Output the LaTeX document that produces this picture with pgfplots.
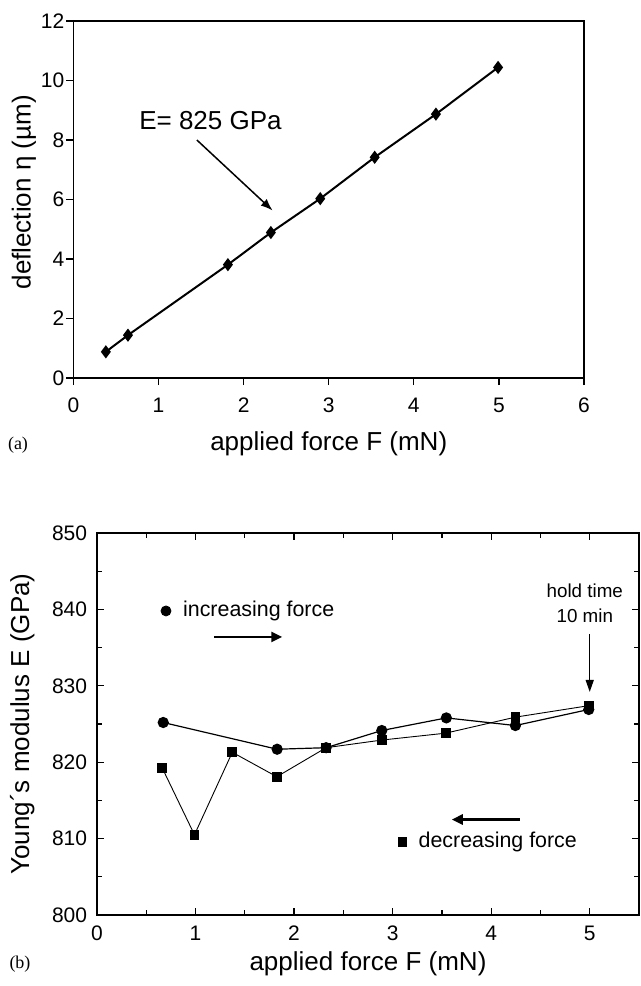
\documentclass[border=0pt]{standalone}
\usepackage{fontspec}
\setmainfont{Liberation Sans}
\newfontfamily\serifpanel{Liberation Serif}
\usepackage{pgfplots}
\pgfplotsset{compat=1.18}
\usetikzlibrary{arrows.meta}

\begin{document}
\begin{tikzpicture}
\useasboundingbox (0pt,0pt) rectangle (320.5pt,-493pt);
\pgfplotsset{
  every axis/.append style={
    scale only axis,
    axis line style={line width=0.8pt},
    every tick/.style={line width=0.6pt, black},
    tick label style={font=\fontsize{10.5}{12}\selectfont},
    label style={font=\fontsize{13}{15}\selectfont},
    /pgf/number format/assume math mode=true,
  },
}

% (a) deflection vs force
\begin{axis}[
  at={(36.75pt,-189pt)}, anchor=south west,
  width=255.25pt, height=178.5pt,
  xmin=0, xmax=6, ymin=0, ymax=12,
  xtick={0,...,6}, ytick={0,2,...,12},
  tick align=outside, xtick pos=bottom, ytick pos=left,
  major tick length=3.5pt,
  xticklabel style={anchor=base, yshift=-13.9pt},
  yticklabel style={anchor=east, inner sep=0pt, xshift=-0.9pt},
  xlabel={applied force F (mN)},
  ylabel={deflection η (µm)},
  xlabel style={at={(axis description cs:0.5,-0.185)}, anchor=center},
  ylabel style={at={(axis description cs:-0.097,0.52)}, anchor=center},
]
\addplot[black, line width=1pt, mark=diamond*, mark size=2.5pt] coordinates {
  (0.38,0.88)(0.64,1.44)(1.815,3.81)(2.32,4.89)(2.90,6.03)(3.54,7.42)(4.26,8.87)(4.99,10.44)
};
\node[font=\fontsize{13}{15}\selectfont] at (axis cs:1.61,8.65) {E= 825 GPa};
\draw[line width=0.75pt, -{Latex[length=6pt,width=4.5pt]}] (axis cs:1.45,8.0) -- (axis cs:2.34,5.63);
\end{axis}

% (b) Young's modulus vs force
\begin{axis}[
  at={(48.5pt,-457.5pt)}, anchor=south west,
  width=271pt, height=191pt,
  xmin=0, xmax=5.5, ymin=800, ymax=850,
  xtick={0,...,5}, ytick={800,810,...,850},
  minor xtick={0.5,1.5,...,5}, minor ytick={805,815,...,845},
  tick align=inside,
  major tick length=3.5pt, minor tick length=2.5pt,
  xticklabel style={anchor=base, yshift=-12.9pt},
  yticklabel style={anchor=east, inner sep=0pt, xshift=-4.75pt},
  xlabel={applied force F (mN)},
  ylabel={Young´s modulus E (GPa)},
  xlabel style={at={(axis description cs:0.5,-0.128)}, anchor=center},
  ylabel style={at={(axis description cs:-0.138,0.5)}, anchor=center},
]
% increasing force
\addplot[black, line width=0.6pt, mark=*, mark size=2.5pt] coordinates {
  (0.672,825.2)(1.828,821.7)(2.325,821.9)(2.89,824.15)(3.545,825.8)(4.246,824.8)(4.99,826.9)
};
% decreasing force
\addplot[black, line width=0.45pt, mark=square*, mark size=2.2pt] coordinates {
  (0.66,819.3)(0.989,810.5)(1.373,821.3)(1.825,818.1)(2.325,821.9)(2.89,822.9)(3.537,823.8)(4.246,825.9)(4.99,827.4)
};
% legend-like labels
\addplot[black, only marks, mark=*, mark size=2.5pt] coordinates {(0.70,839.8)};
\node[anchor=west, inner sep=0pt, font=\fontsize{10.7}{12}\selectfont] at (axis cs:0.87,839.8) {increasing force};
\draw[line width=1.3pt, -{Triangle[length=5.5pt,width=5pt]}] (axis cs:1.19,836.4) -- (axis cs:1.88,836.4);
\addplot[black, only marks, mark=square*, mark size=2.2pt] coordinates {(3.10,809.6)};
\node[anchor=west, inner sep=0pt, font=\fontsize{10.7}{12}\selectfont] at (axis cs:3.26,809.6) {decreasing force};
\draw[line width=1.3pt, -{Triangle[length=5.5pt,width=5pt]}] (axis cs:4.29,812.5) -- (axis cs:3.60,812.5);
\node[align=center, inner sep=0pt, font=\fontsize{9.4}{12.5}\selectfont] at (axis cs:4.95,840.8) {hold time\\10 min};
\draw[line width=0.75pt, -{Triangle[length=6pt,width=4pt]}] (axis cs:5.0,836.8) -- (axis cs:5.0,829.2);
\end{axis}

\node[font=\serifpanel\fontsize{9}{10}\selectfont] at (9pt,-222.5pt) {(a)};
\node[font=\serifpanel\fontsize{9}{10}\selectfont] at (10pt,-482pt) {(b)};
\end{tikzpicture}
\end{document}
